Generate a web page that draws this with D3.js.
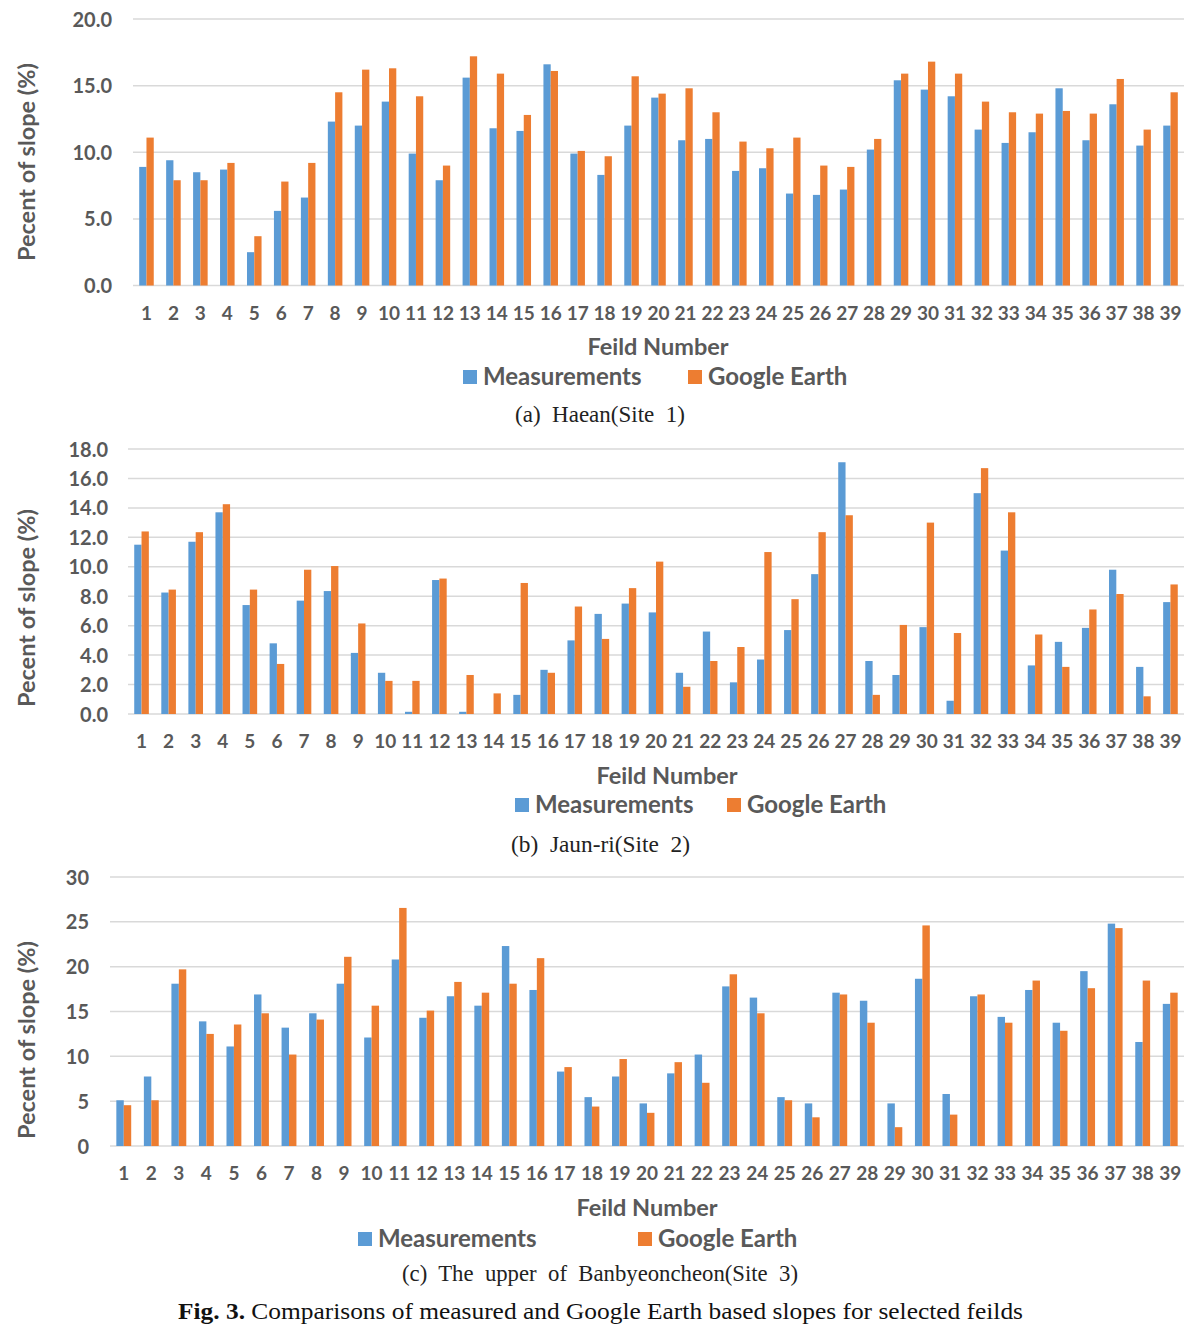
<!DOCTYPE html>
<html>
<head>
<meta charset="utf-8">
<script src="https://cdn.jsdelivr.net/npm/d3@7"></script>
<style>
  html, body { margin: 0; padding: 0; background: #fff; }
  svg { display: block; }
  text { white-space: pre; }
</style>
</head>
<body>
<svg id="fig" width="1200" height="1329"></svg>
<script>
// ---------------- DATA ----------------
const fields = ["1","2","3","4","5","6","7","8","9","10","11","12","13","14","15","16","17","18","19","20",
                "21","22","23","24","25","26","27","28","29","30","31","32","33","34","35","36","37","38","39"];
const seriesNames = ["Measurements", "Google Earth"];

const siteA_measure = [8.9,9.4,8.5,8.7,2.5,5.6,6.6,12.3,12.0,13.8, 9.9,7.9,15.6,11.8,11.6,16.6,9.9,8.3,12.0,14.1,
                       10.9,11.0,8.6,8.8,6.9,6.8,7.2,10.2,15.4,14.7, 14.2,11.7,10.7,11.5,14.8,10.9,13.6,10.5,12.0];
const siteA_google  = [11.1,7.9,7.9,9.2,3.7,7.8,9.2,14.5,16.2,16.3, 14.2,9.0,17.2,15.9,12.8,16.1,10.1,9.7,15.7,14.4,
                       14.8,13.0,10.8,10.3,11.1,9.0,8.9,11.0,15.9,16.8, 15.9,13.8,13.0,12.9,13.1,12.9,15.5,11.7,14.5];

const siteB_measure = [11.5,8.25,11.7,13.7,7.4,4.8,7.7,8.35,4.15,2.8, 0.15,9.1,0.15,0,1.3,3.0,5.0,6.8,7.5,6.9,
                       2.8,5.6,2.15,3.7,5.7,9.5,17.1,3.6,2.65,5.9, 0.9,15.0,11.1,3.3,4.9,5.85,9.8,3.2,7.6];
const siteB_google  = [12.4,8.45,12.35,14.25,8.45,3.4,9.8,10.05,6.15,2.25, 2.25,9.2,2.65,1.4,8.9,2.8,7.3,5.1,8.55,10.35,
                       1.85,3.6,4.55,11.0,7.8,12.35,13.5,1.3,6.05,13.0, 5.5,16.7,13.7,5.4,3.2,7.1,8.15,1.2,8.8];

const siteC_measure = [5.1,7.75,18.1,13.9,11.1,16.9,13.2,14.8,18.1,12.1, 20.8,14.3,16.7,15.65,22.3,17.4,8.3,5.45,7.75,4.75,
                       8.1,10.2,17.8,16.55,5.45,4.75,17.1,16.2,4.75,18.65, 5.8,16.7,14.4,17.4,13.75,19.5,24.8,11.6,15.85];
const siteC_google  = [4.55,5.1,19.7,12.5,13.55,14.8,10.2,14.1,21.1,15.65, 26.55,15.1,18.3,17.1,18.1,20.95,8.8,4.4,9.7,3.7,
                       9.35,7.05,19.15,14.8,5.1,3.2,16.9,13.75,2.1,24.6, 3.5,16.9,13.75,18.45,12.85,17.6,24.3,18.45,17.1];

const ticksA = [0, 5, 10, 15, 20];
const ticksB = [0, 2, 4, 6, 8, 10, 12, 14, 16, 18];
const ticksC = [0, 5, 10, 15, 20, 25, 30];

const yTitle = "Pecent of slope (%)";
const xTitle = "Feild Number";
const captionA = "(a)  Haean(Site  1)";
const captionB = "(b)  Jaun-ri(Site  2)";
const captionC = "(c)  The  upper  of  Banbyeoncheon(Site  3)";
const figLabel = "Fig. 3.";
const figText = " Comparisons of measured and Google Earth based slopes for selected feilds";

// ---------------- STYLE ----------------
const colors = ["#5B9BD5", "#ED7D31"];
const gray = "#595959";
const gridColor = "#D9D9D9";
const sans = "Lato, 'Open Sans', sans-serif";
const serif = "'Liberation Serif', 'DejaVu Serif', serif";

const svg = d3.select("#fig");

function drawChart(o) {
  const g = svg.append("g");
  const y = d3.scaleLinear().domain([0, o.max]).range([o.bottom, o.top]);
  const x = d3.scaleBand().domain(fields).range([o.left, o.right]).paddingInner(0.46).paddingOuter(0.23);
  const xs = d3.scaleBand().domain(seriesNames).range([0, x.bandwidth()]);

  // gridlines
  g.append("g").selectAll("line").data(o.ticks).join("line")
    .attr("x1", o.left).attr("x2", o.right)
    .attr("y1", d => y(d)).attr("y2", d => y(d))
    .attr("stroke", gridColor).attr("stroke-width", 1.5);

  // y tick labels via axis
  const yAxis = d3.axisLeft(y).tickValues(o.ticks).tickFormat(o.fmt).tickSize(0).tickPadding(0);
  const ya = g.append("g").attr("transform", `translate(${o.labelRight},0)`).call(yAxis);
  ya.select(".domain").remove();
  ya.selectAll("text").attr("font-family", sans).attr("font-weight", "bold")
    .attr("font-size", 20).attr("fill", gray).attr("dy", "0.35em");

  // bars
  const rows = fields.map((f, i) => ({ f, vals: [o.a[i], o.b[i]] }));
  const grp = g.append("g").selectAll("g").data(rows).join("g")
    .attr("transform", d => `translate(${x(d.f)},0)`);
  grp.selectAll("rect").data(d => d.vals.map((v, k) => ({ v, k }))).join("rect")
    .attr("x", d => xs(seriesNames[d.k]))
    .attr("width", xs.bandwidth())
    .attr("y", d => y(d.v))
    .attr("height", d => o.bottom - y(d.v))
    .attr("fill", d => colors[d.k]);

  // x tick labels via axis
  const xAxis = d3.axisBottom(x).tickSize(0).tickPadding(0);
  const xa = g.append("g").attr("transform", `translate(0,${o.xLabelY})`).call(xAxis);
  xa.select(".domain").remove();
  xa.selectAll("text").attr("font-family", sans).attr("font-weight", "bold")
    .attr("font-size", 19).attr("fill", gray).attr("dy", "0.35em").attr("y", 0);

  // x title
  g.append("text").attr("x", o.xTitleX).attr("y", o.xTitleY).attr("dy", "0.35em")
    .attr("text-anchor", "middle").attr("font-family", sans).attr("font-weight", "bold")
    .attr("font-size", 23.5).attr("fill", gray).text(xTitle);

  // y title
  g.append("text").attr("transform", `translate(27,${o.yTitleY}) rotate(-90)`).attr("dy", "0.35em")
    .attr("text-anchor", "middle").attr("font-family", sans).attr("font-weight", "bold")
    .attr("font-size", 23.5).attr("fill", gray).text(yTitle);

  // legend
  seriesNames.forEach((name, k) => {
    const lx = o.legendX[k];
    g.append("rect").attr("x", lx).attr("y", o.legendY - 7).attr("width", 14).attr("height", 14)
      .attr("fill", colors[k]);
    g.append("text").attr("x", lx + 20).attr("y", o.legendY).attr("dy", "0.35em")
      .attr("font-family", sans).attr("font-weight", "bold").attr("font-size", 24)
      .attr("fill", gray).text(name);
  });

  // caption
  g.append("text").attr("x", o.capX).attr("y", o.captionY).attr("dy", "0.35em")
    .attr("font-family", serif).attr("font-size", 23)
    .attr("textLength", o.capW).attr("lengthAdjust", "spacingAndGlyphs")
    .attr("fill", "#222").text(o.caption);
}

drawChart({ a: siteA_measure, b: siteA_google, max: 20, ticks: ticksA, fmt: d3.format(".1f"),
  left: 133, right: 1184, top: 19, bottom: 285.5, labelRight: 112, xLabelY: 313,
  xTitleX: 658, xTitleY: 347, legendX: [463, 688], legendY: 377, captionY: 414, yTitleY: 162,
  caption: captionA, capX: 515, capW: 170 });

drawChart({ a: siteB_measure, b: siteB_google, max: 18, ticks: ticksB, fmt: d3.format(".1f"),
  left: 128, right: 1184, top: 449, bottom: 714, labelRight: 108, xLabelY: 741,
  xTitleX: 667, xTitleY: 776, legendX: [515, 727], legendY: 805, captionY: 844, yTitleY: 608,
  caption: captionB, capX: 511, capW: 179 });

drawChart({ a: siteC_measure, b: siteC_google, max: 30, ticks: ticksC, fmt: d3.format("d"),
  left: 110, right: 1184, top: 877, bottom: 1146, labelRight: 89, xLabelY: 1173,
  xTitleX: 647, xTitleY: 1208, legendX: [358, 638], legendY: 1239, captionY: 1273, yTitleY: 1040,
  caption: captionC, capX: 402, capW: 396 });

// figure caption
const fc = svg.append("text").attr("x", 178).attr("y", 1311).attr("dy", "0.35em")
  .attr("font-family", serif).attr("font-size", 24).attr("fill", "#111")
  .attr("textLength", 845).attr("lengthAdjust", "spacingAndGlyphs");
fc.append("tspan").attr("font-weight", "bold").text(figLabel);
fc.append("tspan").text(figText);
</script>
</body>
</html>
